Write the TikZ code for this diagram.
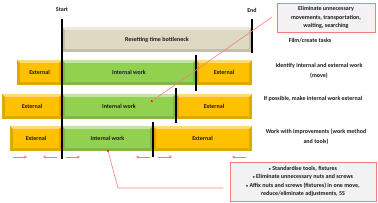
\documentclass[tikz,border=0pt]{standalone}
\usepackage{fontspec}
\setmainfont{Carlito}
\usetikzlibrary{arrows.meta}
\definecolor{ycol}{HTML}{FFC000}
\definecolor{gcol}{HTML}{92D050}
\definecolor{bcol}{HTML}{DDD9C3}
\definecolor{redl}{HTML}{F47C7C}
\definecolor{boxfill}{HTML}{F2F2F2}
\definecolor{txt}{HTML}{1A1A1A}
\newcommand{\smallbul}{{\fontsize{4}{4}\selectfont•}}
\tikzset{
  bevel/.style={path picture={
    \fill[#1!55!white] (path picture bounding box.north west) -- (path picture bounding box.north east)
      -- ([shift={(-3pt,-3pt)}]path picture bounding box.north east)
      -- ([shift={(3pt,-3pt)}]path picture bounding box.north west) -- cycle;
    \fill[#1] ([shift={(3pt,-3pt)}]path picture bounding box.north west)
      rectangle ([shift={(-3pt,3pt)}]path picture bounding box.south east);
  }},
  bar/.style={fill=#1!88!black, bevel=#1, minimum height=25pt, inner sep=0pt, outer sep=0pt,
    text=txt, font=\fontsize{6}{7}\selectfont\bfseries},
  marker/.style={line width=1.4pt, black},
  lbl/.style={text=txt, font=\fontsize{6}{9.5}\selectfont\bfseries, align=center, inner sep=0pt},
  note/.style={draw=redl, line width=0.8pt, fill=boxfill, text=txt,
    font=\fontsize{6}{8.5}\selectfont\bfseries, align=center, inner sep=0pt},
  redline/.style={draw=redl, line width=0.6pt},
  tinyarrow/.style={draw=redl, line width=0.6pt, -{Stealth[length=3pt,width=3pt]}},
  dotm/.style={circle, fill=red!85!black, inner sep=0pt, minimum size=2.2pt},
}
\begin{document}
\begin{tikzpicture}[x=1pt,y=-1pt]
\useasboundingbox (0,0) rectangle (378,203);

% row 1
\node[bar=bcol, minimum width=190pt] (r1) at (157,39.5) {Resetting time bottleneck};
% row 2
\node[bar=ycol, minimum width=45pt] (e2a) at (39.5,72.5) {External};
\node[bar=gcol, minimum width=134pt] (i2) at (129,72.5) {Internal work};
\node[bar=ycol, minimum width=56pt] (e2b) at (224,72.5) {External};
% row 3
\node[bar=ycol, minimum width=60pt] (e3a) at (32,106.5) {External};
\node[bar=gcol, minimum width=114pt] (i3) at (119,106.5) {Internal work};
\node[bar=ycol, minimum width=76pt] (e3b) at (214,106.5) {External};
% row 4
\node[bar=ycol, minimum width=52pt] (e4a) at (36,138.5) {External};
\node[bar=gcol, minimum width=91pt] (i4) at (107.5,138.5) {Internal work};
\node[bar=ycol, minimum width=99pt] (e4b) at (202.5,138.5) {External};

% start / end
\node[lbl] (start) at (62,10) {Start};
\node[lbl] (end) at (252,10) {End};
\coordinate (sb) at (62,159);
\coordinate (eb) at (252,53);
\draw[marker] (62,19) -- (sb);
\draw[marker] (252,19) -- (eb);
\coordinate (m2t) at (196,55); \coordinate (m2b) at (196,91);
\coordinate (m3t) at (176,88); \coordinate (m3b) at (176,123);
\coordinate (m4t) at (153,122); \coordinate (m4b) at (153,157);
\draw[marker] (m2t) -- (m2b);
\draw[marker] (m3t) -- (m3b);
\draw[marker] (m4t) -- (m4b);

% right labels
\node[lbl] (t1) at (310,41) {Film/create tasks};
\node[lbl] (t2) at (319,71) {Identify internal and external work\\(move)};
\node[lbl] (t3) at (313,99) {If possible, make internal work external};
\node[lbl] (t4) at (316,136.5) {Work with improvements (work method\\and tools)};

% note boxes
\node[note, minimum width=98pt, minimum height=29pt] (n1) at (326,17.5)
  {Eliminate unnecessary\\movements, transportation,\\waiting, searching};
\node[note, minimum width=146pt, minimum height=39pt] (n2) at (303,181.5)
  {\smallbul\ Standardise tools, fixtures\\\smallbul\ Eliminate unnecessary nuts and screws\\\smallbul\ Affix nuts and screws (fixtures) in one move,\\reduce/eliminate adjustments, 5S};

% connectors
\node[dotm] (d1) at (152,101) {};
\node[dotm] (d2) at (108,151) {};
\coordinate (c1) at (272,17);
\coordinate (c2) at (223,188);
\coordinate (c2k) at (118,188);
\draw[redline] (c1) -- (d1.center);
\draw[redline] (c2) -- (c2k) -- (d2.center);

% small arrows
\coordinate (a1s) at (13,157); \coordinate (a1e) at (27,157);
\coordinate (a2s) at (57,157); \coordinate (a2e) at (43,157);
\coordinate (a3s) at (66,157); \coordinate (a3e) at (80,157);
\coordinate (a4s) at (150,157); \coordinate (a4e) at (136,157);
\coordinate (a5s) at (158,157); \coordinate (a5e) at (172,157);
\coordinate (a6s) at (246,157); \coordinate (a6e) at (232,157);
\draw[tinyarrow] (a1s) -- (a1e);
\draw[tinyarrow] (a2s) -- (a2e);
\draw[tinyarrow] (a3s) -- (a3e);
\draw[tinyarrow] (a4s) -- (a4e);
\draw[tinyarrow] (a5s) -- (a5e);
\draw[tinyarrow] (a6s) -- (a6e);
\end{tikzpicture}
\end{document}
